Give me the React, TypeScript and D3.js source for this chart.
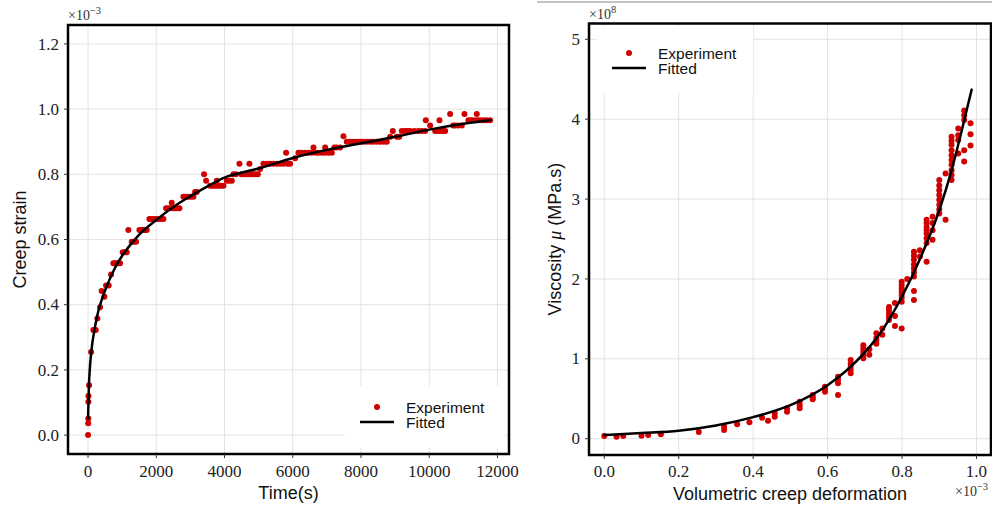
import React from 'react';
import * as d3 from 'd3';

// creep test: time (s) vs creep strain (x1e-3)
const expTime = [0, 5, 8, 10, 12, 30, 88, 155, 225, 273, 352, 400, 478, 528, 606, 674, 742, 790, 840, 890, 938, 1016, 1075, 1133, 1182, 1280, 1345, 1407, 1505, 1560, 1622, 1680, 1720, 1798, 1860, 1915, 1990, 2061, 2130, 2208, 2287, 2350, 2420, 2453, 2500, 2550, 2610, 2677, 2795, 2860, 2941, 3010, 3088, 3137, 3186, 3401, 3460, 3577, 3640, 3700, 3773, 3773, 3840, 3900, 3968, 4066, 4140, 4213, 4261, 4330, 4437, 4490, 4554, 4620, 4690, 4730, 4760, 4828, 4900, 4975, 5043, 5140, 5240, 5336, 5430, 5532, 5630, 5727, 5805, 5850, 5923, 6069, 6167, 6260, 6362, 6460, 6558, 6607, 6680, 6753, 6850, 6949, 6949, 7050, 7144, 7220, 7290, 7388, 7486, 7583, 7681, 7780, 7880, 7974, 8070, 8170, 8267, 8360, 8460, 8560, 8660, 8755, 8854, 8932, 9049, 9120, 9196, 9290, 9370, 9440, 9560, 9684, 9780, 9880, 9899, 10026, 10173, 10250, 10300, 10319, 10400, 10466, 10612, 10700, 10759, 10850, 10954, 11032, 11149, 11220, 11296, 11393, 11400, 11491, 11590, 11686, 11785];
const expStrain = [0, 0.036, 0.051, 0.102, 0.12, 0.153, 0.255, 0.322, 0.322, 0.358, 0.392, 0.442, 0.424, 0.459, 0.459, 0.493, 0.527, 0.527, 0.527, 0.527, 0.527, 0.561, 0.561, 0.561, 0.629, 0.593, 0.593, 0.593, 0.629, 0.629, 0.629, 0.629, 0.629, 0.663, 0.663, 0.663, 0.663, 0.663, 0.663, 0.663, 0.696, 0.696, 0.696, 0.713, 0.696, 0.696, 0.696, 0.696, 0.731, 0.731, 0.731, 0.731, 0.731, 0.746, 0.746, 0.8, 0.78, 0.765, 0.765, 0.765, 0.78, 0.765, 0.765, 0.765, 0.765, 0.78, 0.78, 0.78, 0.8, 0.8, 0.832, 0.8, 0.8, 0.8, 0.8, 0.832, 0.8, 0.8, 0.8, 0.8, 0.816, 0.832, 0.832, 0.832, 0.832, 0.832, 0.832, 0.832, 0.866, 0.832, 0.832, 0.849, 0.866, 0.866, 0.866, 0.866, 0.866, 0.882, 0.866, 0.866, 0.866, 0.866, 0.882, 0.866, 0.866, 0.882, 0.882, 0.882, 0.917, 0.9, 0.9, 0.9, 0.9, 0.9, 0.9, 0.9, 0.9, 0.9, 0.9, 0.9, 0.9, 0.9, 0.915, 0.933, 0.915, 0.915, 0.933, 0.933, 0.933, 0.933, 0.933, 0.933, 0.933, 0.933, 0.966, 0.95, 0.933, 0.933, 0.966, 0.933, 0.933, 0.933, 0.985, 0.95, 0.95, 0.95, 0.95, 0.985, 0.966, 0.966, 0.966, 0.985, 0.966, 0.966, 0.966, 0.966, 0.966];
const fitTime = [0, 25, 50, 100, 200, 300, 400, 600, 800, 1000, 1250, 1500, 2000, 2500, 3000, 3500, 4000, 4500, 5000, 6000, 7000, 8000, 9000, 10000, 11000, 11785];
const fitStrain = [0.05, 0.15, 0.2, 0.26, 0.33, 0.38, 0.415, 0.47, 0.515, 0.55, 0.585, 0.615, 0.66, 0.7, 0.733, 0.763, 0.79, 0.805, 0.818, 0.85, 0.875, 0.895, 0.915, 0.937, 0.955, 0.966];
const timeTicks = [0, 2000, 4000, 6000, 8000, 10000, 12000];
const strainTicks = [0, 0.2, 0.4, 0.6, 0.8, 1.0, 1.2];

// volumetric creep deformation (x1e-3) vs viscosity (x1e8 MPa.s)
const expVol = [0, 0.033, 0.051, 0.1, 0.118, 0.152, 0.254, 0.322, 0.322, 0.357, 0.39, 0.424, 0.44, 0.458, 0.458, 0.491, 0.491, 0.525, 0.525, 0.525, 0.56, 0.56, 0.56, 0.593, 0.593, 0.593, 0.628, 0.628, 0.628, 0.628, 0.662, 0.662, 0.662, 0.662, 0.662, 0.696, 0.696, 0.696, 0.696, 0.696, 0.712, 0.712, 0.731, 0.731, 0.731, 0.731, 0.747, 0.747, 0.765, 0.765, 0.765, 0.765, 0.765, 0.781, 0.781, 0.781, 0.799, 0.799, 0.799, 0.799, 0.799, 0.799, 0.799, 0.799, 0.814, 0.832, 0.832, 0.832, 0.832, 0.832, 0.832, 0.832, 0.832, 0.832, 0.848, 0.848, 0.866, 0.866, 0.866, 0.866, 0.866, 0.866, 0.866, 0.866, 0.882, 0.882, 0.882, 0.882, 0.9, 0.9, 0.9, 0.9, 0.9, 0.9, 0.9, 0.9, 0.917, 0.917, 0.933, 0.933, 0.933, 0.933, 0.933, 0.933, 0.933, 0.933, 0.933, 0.933, 0.951, 0.951, 0.951, 0.951, 0.967, 0.967, 0.967, 0.967, 0.967, 0.984, 0.984, 0.984];
const expVisc = [0.034, 0.025, 0.034, 0.038, 0.046, 0.055, 0.084, 0.109, 0.15, 0.18, 0.205, 0.263, 0.225, 0.275, 0.318, 0.338, 0.38, 0.38, 0.42, 0.463, 0.493, 0.52, 0.547, 0.588, 0.62, 0.65, 0.547, 0.693, 0.735, 0.776, 0.818, 0.86, 0.9, 0.94, 0.985, 1.006, 1.05, 1.09, 1.13, 1.17, 1.05, 1.12, 1.19, 1.23, 1.26, 1.32, 1.3, 1.38, 1.485, 1.53, 1.57, 1.61, 1.65, 1.41, 1.535, 1.7, 1.38, 1.715, 1.76, 1.8, 1.84, 1.88, 1.92, 1.965, 2.0, 1.736, 1.85, 2.03, 2.08, 2.13, 2.18, 2.24, 2.29, 2.34, 2.28, 2.36, 2.215, 2.45, 2.51, 2.57, 2.61, 2.65, 2.7, 2.74, 2.49, 2.61, 2.7, 2.78, 2.82, 2.87, 2.93, 2.99, 3.05, 3.11, 3.17, 3.24, 2.74, 3.32, 3.24, 3.3, 3.36, 3.43, 3.49, 3.55, 3.61, 3.68, 3.73, 3.78, 3.57, 3.74, 3.8, 3.885, 3.47, 3.61, 3.99, 4.05, 4.11, 3.67, 3.81, 3.95];
const fitVol = [0, 0.1, 0.2, 0.3, 0.4, 0.5, 0.6, 0.65, 0.7, 0.75, 0.8, 0.85, 0.9, 0.933, 0.96, 0.987];
const fitVisc = [0.045, 0.07, 0.1, 0.165, 0.27, 0.42, 0.67, 0.85, 1.08, 1.38, 1.78, 2.27, 2.86, 3.36, 3.85, 4.37];
const volTicks = [0, 0.2, 0.4, 0.6, 0.8, 1.0];
const viscTicks = [0, 1, 2, 3, 4, 5];

const RED = '#d00000';
const serif = '"Liberation Serif", serif';
const sans = '"Liberation Sans", Arial, sans-serif';

function Panel({ box, xDom, yDom, xTicks, yTicks, xFmt, yFmt, xs, ys, fx, fy, legend }) {
  const [x0, y0, x1, y1] = box;
  const x = d3.scaleLinear().domain(xDom).range([x0, x1]);
  const y = d3.scaleLinear().domain(yDom).range([y1, y0]);
  const line = d3.line<number>().x((d, i) => x(fx[i])).y(d => y(d)).curve(d3.curveMonotoneX);
  return (
    <g>
      {xTicks.map(t => <line key={'gx' + t} x1={x(t)} x2={x(t)} y1={y0} y2={y1} stroke="#e3e3e3" />)}
      {yTicks.map(t => <line key={'gy' + t} x1={x0} x2={x1} y1={y(t)} y2={y(t)} stroke="#e3e3e3" />)}
      <rect x={legend.box[0]} y={legend.box[1]} width={legend.box[2]} height={legend.box[3]} fill="#fff" />
      {xs.map((v, i) => <circle key={'p' + i} cx={x(v)} cy={y(ys[i])} r={3} fill={RED} />)}
      <path d={line(fy) || ''} fill="none" stroke="#000" strokeWidth={2.5} strokeLinejoin="round" strokeLinecap="round" />
      <rect x={x0} y={y0} width={x1 - x0} height={y1 - y0} fill="none" stroke="#000" strokeWidth={2.5} />
      {xTicks.map(t => (
        <g key={'tx' + t}>
          <line x1={x(t)} x2={x(t)} y1={y1} y2={y1 + 4} stroke="#333" />
          <text x={x(t)} y={477} textAnchor="middle" fontFamily={serif} fontSize={17} fill="#222">{xFmt(t)}</text>
        </g>
      ))}
      {yTicks.map(t => (
        <g key={'ty' + t}>
          <line x1={x0 - 4} x2={x0} y1={y(t)} y2={y(t)} stroke="#333" />
          <text x={x0 - 9} y={y(t)} dy="0.33em" textAnchor="end" fontFamily={serif} fontSize={17} fill="#222">{yFmt(t)}</text>
        </g>
      ))}
      <circle cx={legend.mx} cy={legend.my} r={3} fill={RED} />
      <text x={legend.tx} y={legend.my + 6} fontFamily={sans} fontSize={15.5} fill="#111">Experiment</text>
      <line x1={legend.mx - 17} x2={legend.mx + 17} y1={legend.my + 15} y2={legend.my + 15} stroke="#000" strokeWidth={2.5} />
      <text x={legend.tx} y={legend.my + 21} fontFamily={sans} fontSize={15.5} fill="#111">Fitted</text>
    </g>
  );
}

function Mult({ x, y, exp }) {
  return (
    <text x={x} y={y} fontFamily={serif} fontSize={14} fill="#333">
      ×10<tspan fontSize={10.5} dy={-6}>{exp}</tspan>
    </text>
  );
}

export default function App() {
  return (
    <svg width={992} height={510} style={{ position: 'absolute', left: 0, top: 0, background: '#fff' }}>
      <line x1={537} x2={992} y1={2} y2={2} stroke="#b0b0b0" strokeWidth={1.5} />
      <Panel
        box={[68, 25, 509, 454]}
        xDom={[-587.5, 12337.5]}
        yDom={[-0.058, 1.258]}
        xTicks={timeTicks}
        yTicks={strainTicks}
        xFmt={d => String(d)}
        yFmt={d => d.toFixed(1)}
        xs={expTime}
        ys={expStrain}
        fx={fitTime}
        fy={fitStrain}
        legend={{ box: [345, 386, 160, 62], mx: 377, my: 407, tx: 406 }}
      />
      <Mult x={68} y={20} exp="−3" />
      <text transform="translate(26,239.5) rotate(-90)" textAnchor="middle" fontFamily={sans} fontSize={18} fill="#111">Creep strain</text>
      <text x={288.5} y={499} textAnchor="middle" fontFamily={sans} fontSize={18} fill="#111">Time(s)</text>

      <Panel
        box={[589, 23.5, 991, 455]}
        xDom={[-0.041, 1.039]}
        yDom={[-0.204, 5.198]}
        xTicks={volTicks}
        yTicks={viscTicks}
        xFmt={d => d.toFixed(1)}
        yFmt={d => String(d)}
        xs={expVol}
        ys={expVisc}
        fx={fitVol}
        fy={fitVisc}
        legend={{ box: [597, 26, 156, 67], mx: 629, my: 53, tx: 658 }}
      />
      <Mult x={589} y={19} exp="8" />
      <Mult x={955} y={496} exp="−3" />
      <text transform="translate(561,239) rotate(-90)" textAnchor="middle" fontFamily={sans} fontSize={18} fill="#111">
        Viscosity <tspan fontFamily={serif} fontStyle="italic">μ</tspan> (MPa.s)
      </text>
      <text x={790} y={499.5} textAnchor="middle" fontFamily={sans} fontSize={18} fill="#111">Volumetric creep deformation</text>
    </svg>
  );
}
